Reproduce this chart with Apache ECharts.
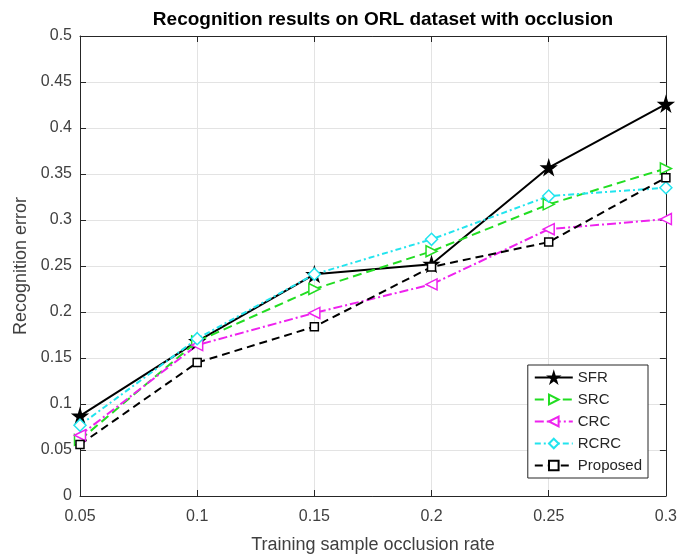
<!DOCTYPE html>
<html>
<head>
<meta charset="utf-8">
<script src="https://cdn.jsdelivr.net/npm/echarts@6/dist/echarts.min.js"></script>
<style>
  html, body { margin: 0; padding: 0; background: #fff; }
  #chart { width: 680px; height: 559px; }
</style>
</head>
<body>
<div id="chart"></div>
<script>
// Occlusion rates on the x axis
const rates = [0.05, 0.1, 0.15, 0.2, 0.25, 0.3];

// Recognition error per method
const sfr = [0.087, 0.168, 0.241, 0.252, 0.357, 0.426];
const src = [0.061, 0.168, 0.225, 0.266, 0.317, 0.356];
const crc = [0.066, 0.164, 0.199, 0.230, 0.290, 0.301];
const rcrc = [0.077, 0.171, 0.241, 0.279, 0.326, 0.335];
const proposed = [0.056, 0.145, 0.184, 0.249, 0.276, 0.346];

const font = 'Liberation Sans';
const textColor = '#404040';
const star = 'path://M50,0 L61,35 L98,35 L68,57 L79,91 L50,70 L21,91 L32,57 L2,35 L39,35 Z';

function pairs(vals) {
  return rates.map((r, i) => [r, vals[i]]);
}

function makeSeries(name, vals, color, dash, symbol, rotate, size, filled) {
  return {
    name: name,
    type: 'line',
    data: pairs(vals),
    symbol: symbol,
    symbolSize: size,
    symbolRotate: rotate,
    showAllSymbol: true,
    lineStyle: { color: color, width: 2, type: dash },
    itemStyle: { color: filled ? color : '#fff', borderColor: color, borderWidth: 1.5 },
    emphasis: { disabled: true },
    z: 3
  };
}

let chart = echarts.init(document.getElementById('chart'));

const axisCommon = {
  type: 'value',
  splitLine: { show: true, lineStyle: { color: '#e3e3e3', width: 1 } },
  axisLine: { show: true, onZero: false, lineStyle: { color: '#262626', width: 1 } },
  axisTick: { show: true, inside: true, length: 6, lineStyle: { color: '#262626' } }
};

let option = {
  backgroundColor: '#fff',
  animation: false,
  title: {
    text: 'Recognition results on ORL dataset with occlusion',
    left: 378, top: 5, textAlign: 'center',
    textStyle: { fontFamily: font, fontSize: 19, fontWeight: 'bold', color: '#000' }
  },
  grid: { left: 80, right: 14, top: 36, bottom: 61 },
  legend: {
    orient: 'vertical',
    right: 32, top: 365,
    itemWidth: 38, itemHeight: 12, itemGap: 7,
    padding: [5, 6, 5, 6],
    backgroundColor: '#fff',
    borderColor: '#262626', borderWidth: 1, borderRadius: 0,
    textStyle: { fontFamily: font, fontSize: 15, color: '#262626' },
    data: ['SFR', 'SRC', 'CRC', 'RCRC', 'Proposed']
  },
  xAxis: [
    Object.assign({}, axisCommon, {
      min: 0.05, max: 0.3, interval: 0.05,
      name: 'Training sample occlusion rate',
      nameLocation: 'middle', nameGap: 40,
      nameTextStyle: { fontFamily: font, fontSize: 18, color: textColor },
      axisLabel: { fontFamily: font, fontSize: 16, color: textColor, margin: 13 }
    }),
    Object.assign({}, axisCommon, {
      position: 'top', min: 0.05, max: 0.3, interval: 0.05,
      splitLine: { show: false },
      axisLabel: { show: false }
    })
  ],
  yAxis: [
    Object.assign({}, axisCommon, {
      min: 0, max: 0.5, interval: 0.05,
      name: 'Recognition error',
      nameLocation: 'middle', nameGap: 50,
      nameTextStyle: { fontFamily: font, fontSize: 18, color: textColor },
      axisLabel: { fontFamily: font, fontSize: 16, color: textColor, margin: 8 }
    }),
    Object.assign({}, axisCommon, {
      position: 'right', min: 0, max: 0.5, interval: 0.05,
      splitLine: { show: false },
      axisLabel: { show: false }
    })
  ],
  series: [
    makeSeries('SFR', sfr, '#000', 'solid', star, 0, 14, true),
    makeSeries('SRC', src, '#22dd22', [9, 5], 'triangle', -90, 11, false),
    makeSeries('CRC', crc, '#ee22ee', [9, 3, 2, 3], 'triangle', 90, 11, false),
    makeSeries('RCRC', rcrc, '#22e4ee', [6, 3, 2, 3], 'diamond', 0, 12, false),
    makeSeries('Proposed', proposed, '#000', [8, 5], 'rect', 0, 8, false)
  ]
};

chart.setOption(option);
window.onresize = () => chart.resize();
</script>
</body>
</html>
